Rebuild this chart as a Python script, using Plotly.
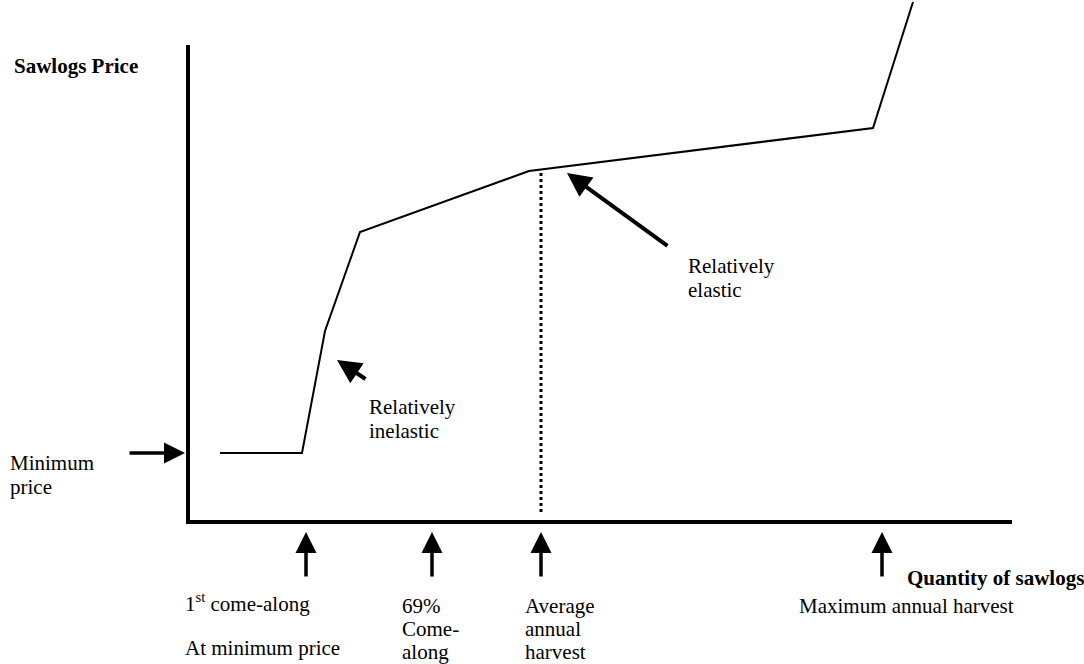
import plotly.graph_objects as go

# ---- data (conceptual units: quantity -> right, price -> up; origin at axes corner)
curve_quantity = [32, 114, 137, 172, 341, 685, 725]
curve_price = [69, 69, 191, 290, 351, 394, 520]

min_price = 69
avg_harvest_q = 353
avg_harvest_price = 349

marker_q = [118, 244, 353, 694]
marker_labels = [
    ["1<sup>st</sup> come-along", "At minimum price"],
    ["69%", "Come-", "along"],
    ["Average", "annual", "harvest"],
    ["Maximum annual harvest"],
]

axis_x_end = 824
axis_y_end = 477

FONT = "Liberation Serif, Times New Roman, serif"
FS = 21
BLACK = "#000000"

fig = go.Figure()

# axes
fig.add_trace(go.Scatter(x=[0, 0, axis_x_end], y=[axis_y_end, 0, 0], mode="lines",
                         line=dict(color=BLACK, width=4), hoverinfo="skip"))
# supply curve
fig.add_trace(go.Scatter(x=curve_quantity, y=curve_price, mode="lines",
                         line=dict(color=BLACK, width=2), hoverinfo="skip"))
# dotted line at average annual harvest
fig.add_trace(go.Scatter(x=[avg_harvest_q, avg_harvest_q], y=[avg_harvest_price, 8], mode="lines",
                         line=dict(color=BLACK, width=3, dash="3px,3px"), hoverinfo="skip"))

def arrow(tip, tail, width=3.5, size=1.2):
    fig.add_annotation(x=tip[0], y=tip[1], ax=tail[0], ay=tail[1], xref="x", yref="y",
                       axref="x", ayref="y", text="", showarrow=True, arrowhead=2,
                       arrowsize=size, arrowwidth=width, arrowcolor=BLACK, standoff=0)

# up arrows under horizontal axis
for q in marker_q:
    arrow((q, -10), (q, -56))
# minimum price arrow
arrow((-3, min_price), (-60, min_price))
# inelastic / elastic arrows
arrow((149, 162), (179, 142), width=4)
arrow((379, 349), (481, 275), width=4)

def text(x, y, s, bold=False):
    fig.add_annotation(x=x, y=y, xref="x", yref="y", text=("<b>%s</b>" % s) if bold else s,
                       showarrow=False, xanchor="left", yanchor="middle",
                       font=dict(family=FONT, size=FS, color=BLACK))

# pixel helpers: x_data = px - 188 ; y_data = 522 - py
def P(px, py):
    return px - 188, 522 - py

text(*P(12, 66), "Sawlogs Price", bold=True)
text(*P(905, 578), "Quantity of sawlogs", bold=True)
text(*P(8, 463), "Minimum")
text(*P(8, 487), "price")
text(*P(367, 407), "Relatively")
text(*P(367, 431), "inelastic")
text(*P(686, 266), "Relatively")
text(*P(686, 290), "elastic")

label_x_px = [183, 400, 523, 797]
for idx, (lx, lines) in enumerate(zip(label_x_px, marker_labels)):
    for i, s in enumerate(lines):
        if idx == 0:
            py = 602 if i == 0 else 648
        else:
            py = 606 + 23 * i
        text(*P(lx, py), s)

fig.update_layout(
    width=1084, height=664,
    margin=dict(l=0, r=0, t=0, b=0),
    paper_bgcolor="white", plot_bgcolor="white",
    showlegend=False,
    xaxis=dict(range=[-188, 896], visible=False, fixedrange=True),
    yaxis=dict(range=[-142, 522], visible=False, fixedrange=True),
)

fig.write_html("out.html", config={"displayModeBar": False},
               post_script="document.body.style.margin='0';document.body.style.overflow='hidden';")
